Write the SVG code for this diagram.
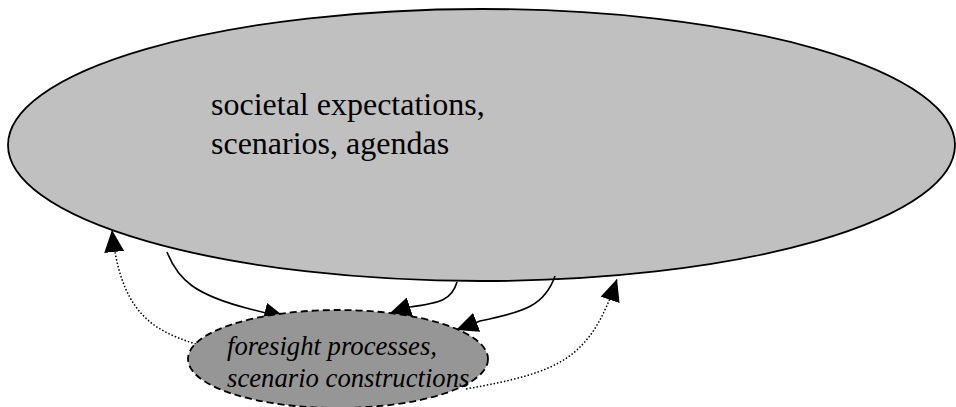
<svg xmlns="http://www.w3.org/2000/svg" width="956" height="407" viewBox="0 0 956 407">
  <style>
    .big { fill: #c0c0c0; stroke: #000; stroke-width: 1.8; }
    .small { fill: #969696; stroke: #000; stroke-width: 1.8; stroke-dasharray: 7 4; }
    .solid { fill: none; stroke: #000; stroke-width: 1.6; marker-end: url(#head); }
    .dotted { fill: none; stroke: #000; stroke-width: 1.5; stroke-dasharray: 1.5 2; marker-end: url(#head); }
    text { font-family: "Liberation Serif", "Times New Roman", serif; fill: #000; }
  </style>
  <defs>
    <marker id="head" viewBox="0 0 22 20" refX="22" refY="10" markerWidth="22" markerHeight="20" orient="auto" markerUnits="userSpaceOnUse">
      <path d="M0,0 L22,10 L0,20 z" fill="#000"/>
    </marker>
  </defs>

  <g id="societal">
    <ellipse class="big" cx="481.5" cy="145" rx="473.5" ry="136"/>
    <text font-size="32" x="211" y="115">societal expectations,</text>
    <text font-size="32" x="211" y="154">scenarios, agendas</text>
  </g>

  <g id="connectors">
    <path class="solid" d="M167,252 C178,280 195,295 250,309 L286,318"/>
    <path class="solid" d="M457,282 C452,300 440,303 410,307 L389,314"/>
    <path class="solid" d="M555,276 C545,305 525,312 480,321 L456,330"/>
    <path class="dotted" d="M196,344 C150,330 120,310 112,230"/>
    <path class="dotted" d="M466,389 C560,372 590,360 617,279"/>
  </g>

  <g id="foresight">
    <ellipse class="small" cx="338" cy="359" rx="150" ry="49"/>
    <text font-size="26.7" font-style="italic" x="227" y="355">foresight processes,</text>
    <text font-size="26.7" font-style="italic" x="227" y="387">scenario constructions</text>
  </g>
</svg>
